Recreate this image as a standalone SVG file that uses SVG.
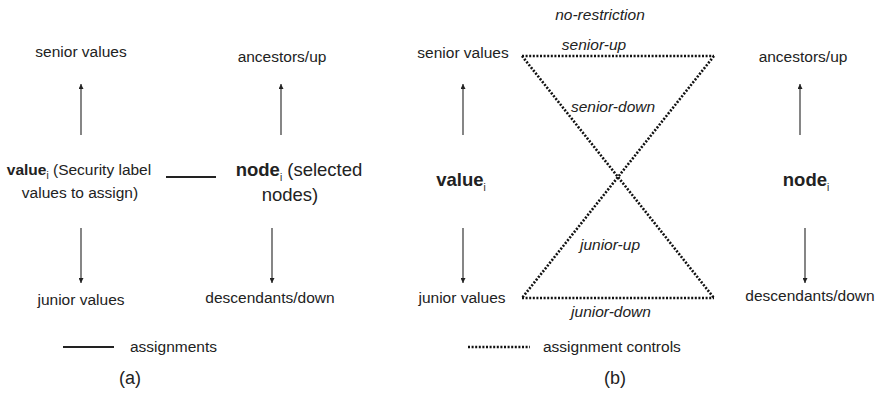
<svg xmlns="http://www.w3.org/2000/svg" width="878" height="393" viewBox="0 0 878 393">
<style>
text{font-family:"Liberation Sans",Arial,sans-serif;font-size:15.5px;fill:#222}
.big{font-size:18.5px}
.cap{font-size:18px}
.b{font-weight:bold}
.it{font-style:italic}
.sub{font-size:10px}
.mid{text-anchor:middle}
.arr{stroke:#222;stroke-width:1.1;fill:none}
.solid{stroke:#222;stroke-width:2;fill:none}
.dot{stroke:#111;stroke-width:2.6;stroke-dasharray:2 1.6;fill:none}
</style>
<defs>
<marker id="ah" viewBox="0 0 10 10" refX="10" refY="5" markerWidth="5" markerHeight="5" orient="auto" markerUnits="userSpaceOnUse">
<path d="M0,0 L10,5 L0,10 z" fill="#222"/>
</marker>
</defs>
<rect width="878" height="393" fill="#fff"/>

<!-- Panel (a) -->
<g id="a-senior"><text class="mid" x="81" y="57">senior values</text></g>
<g id="a-ancestors"><text class="mid" x="282" y="62">ancestors/up</text></g>
<g id="a-value">
<text class="mid" x="79" y="175"><tspan class="b">value</tspan><tspan class="sub" dy="4">i</tspan><tspan dy="-4"> (Security label</tspan></text>
<text class="mid" x="80" y="198">values to assign)</text>
</g>
<g id="a-node">
<text class="mid big" x="299" y="176"><tspan class="b">node</tspan><tspan class="sub" dy="5">i</tspan><tspan dy="-5"> (selected</tspan></text>
<text class="mid big" x="290" y="201">nodes)</text>
</g>
<g id="a-junior"><text class="mid" x="81" y="305">junior values</text></g>
<g id="a-descendants"><text class="mid" x="270" y="303">descendants/down</text></g>
<g id="a-legend">
<line class="solid" x1="63" y1="347" x2="114" y2="347"/>
<text x="130" y="352">assignments</text>
</g>
<g id="a-caption"><text class="mid cap" x="130" y="384">(a)</text></g>

<!-- Panel (b) -->
<g id="b-norestriction"><text class="mid it" x="600" y="20">no-restriction</text></g>
<g id="b-senior"><text class="mid" x="463" y="58">senior values</text></g>
<g id="b-ancestors"><text class="mid" x="803" y="62">ancestors/up</text></g>
<g id="b-value"><text class="mid big" x="461" y="186"><tspan class="b">value</tspan><tspan class="sub" dy="5">i</tspan></text></g>
<g id="b-node"><text class="mid big" x="806" y="186"><tspan class="b">node</tspan><tspan class="sub" dy="5">i</tspan></text></g>
<g id="b-junior"><text class="mid" x="462" y="303">junior values</text></g>
<g id="b-descendants"><text class="mid" x="810" y="301">descendants/down</text></g>
<g id="b-labels">
<text class="mid it" x="594" y="50">senior-up</text>
<text class="mid it" x="613" y="112">senior-down</text>
<text class="mid it" x="610" y="250">junior-up</text>
<text class="mid it" x="611" y="317">junior-down</text>
</g>
<g id="b-legend">
<line class="dot" x1="468" y1="347" x2="530" y2="347"/>
<text x="543" y="352">assignment controls</text>
</g>
<g id="b-caption"><text class="mid cap" x="615" y="384">(b)</text></g>

<!-- Connectors -->
<g id="connectors">
<line class="arr" x1="81" y1="135" x2="81" y2="84" marker-end="url(#ah)"/>
<line class="arr" x1="281" y1="135" x2="281" y2="84" marker-end="url(#ah)"/>
<line class="arr" x1="81" y1="228" x2="81" y2="283" marker-end="url(#ah)"/>
<line class="arr" x1="272" y1="228" x2="272" y2="283" marker-end="url(#ah)"/>
<line class="solid" x1="166" y1="177" x2="216" y2="177"/>
<line class="arr" x1="463" y1="135" x2="463" y2="84" marker-end="url(#ah)"/>
<line class="arr" x1="800" y1="135" x2="800" y2="84" marker-end="url(#ah)"/>
<line class="arr" x1="463" y1="228" x2="463" y2="283" marker-end="url(#ah)"/>
<line class="arr" x1="805" y1="228" x2="805" y2="283" marker-end="url(#ah)"/>
<line class="dot" x1="522" y1="56" x2="714" y2="56"/>
<line class="dot" x1="522" y1="298" x2="714" y2="298"/>
<line class="dot" x1="522" y1="56" x2="714" y2="298"/>
<line class="dot" x1="714" y1="56" x2="522" y2="298"/>
</g>
</svg>
